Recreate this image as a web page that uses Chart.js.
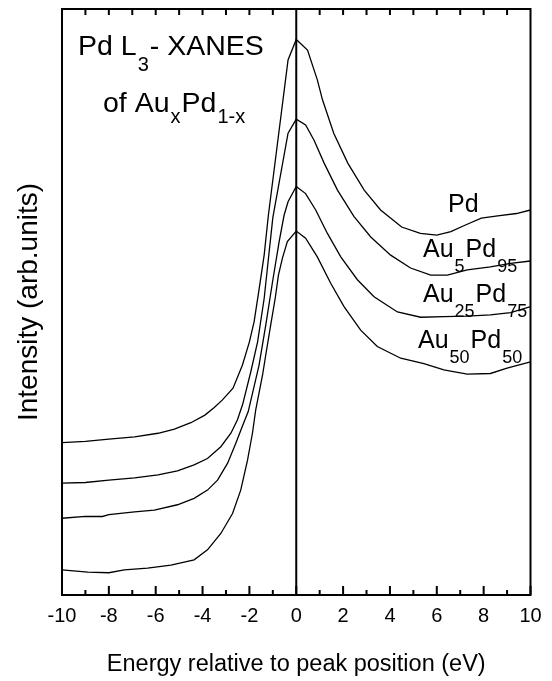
<!DOCTYPE html>
<html><head><meta charset="utf-8">
<script src="https://cdn.jsdelivr.net/npm/chart.js@4.4.0/dist/chart.umd.min.js"></script>
<style>html,body{margin:0;padding:0;background:#fff;}#wrap{width:552px;height:681px;}</style>
</head><body><div id="wrap"><canvas id="c" width="552" height="681"></canvas></div>
<script>
// ---- data (energy in eV relative to peak, intensity in arb. units) ----
const energyPd = [-10, -9, -8, -6.9, -5.9, -5.2, -4.5, -3.9, -3.5, -3.15, -2.7, -2.3, -2.0, -1.8, -1.6, -1.37, -1.19, -0.35, 0, 0.48, 0.9, 1.12, 1.6, 2.2, 2.9, 3.6, 4.5, 5.3, 6.0, 6.6, 7.2, 7.9, 8.6, 9.4, 10];
const intensityPd = [26.0, 26.2, 26.6, 27.0, 27.6, 28.3, 29.4, 30.7, 32.0, 33.3, 35.3, 39.2, 43.2, 46.6, 51.8, 58.0, 64.8, 91.3, 94.8, 93.0, 87.9, 84.5, 78.8, 73.7, 69.1, 65.7, 62.8, 61.7, 61.4, 62.0, 63.1, 64.3, 64.7, 65.1, 65.7];

const energyAu5 = [-10, -9, -8, -6.9, -5.9, -5.07, -4.36, -3.79, -3.22, -2.79, -2.51, -2.29, -1.94, -1.65, -1.37, -1.0, -0.35, 0, 0.4, 0.76, 1.19, 1.76, 2.46, 3.18, 4.03, 4.88, 5.74, 6.45, 7.3, 8.29, 9.15, 10];
const intensityAu5 = [19.1, 19.2, 19.6, 20.0, 20.5, 21.2, 22.2, 23.3, 25.3, 27.6, 29.9, 32.5, 38.1, 43.2, 50.6, 64.4, 78.8, 81.2, 80.2, 77.6, 73.7, 69.1, 64.6, 61.1, 58.0, 55.8, 54.6, 54.6, 55.5, 56.0, 56.6, 57.0];

const energyAu25 = [-10, -9, -8.27, -8.0, -6.9, -6.06, -5.07, -4.36, -3.79, -3.36, -2.93, -2.58, -2.3, -2.05, -1.59, -1.30, -1.01, -0.73, -0.52, -0.35, 0, 0.4, 0.83, 1.33, 1.9, 2.61, 3.32, 4.32, 5.31, 6.3, 7.3, 8.29, 9.15, 10];
const intensityAu25 = [13.1, 13.4, 13.4, 13.7, 14.2, 14.5, 15.4, 16.5, 17.9, 19.6, 22.5, 25.9, 28.8, 31.3, 39.2, 46.1, 53.5, 60.3, 64.8, 67.1, 69.7, 68.5, 65.7, 61.7, 57.7, 53.8, 50.9, 48.3, 47.4, 47.5, 47.6, 47.8, 48.2, 49.2];

const energyAu50 = [-10, -8.9, -8.0, -7.34, -6.35, -5.35, -4.36, -3.79, -3.22, -2.72, -2.37, -2.08, -1.87, -1.73, -1.44, -1.30, -1.09, -0.90, -0.76, -0.59, -0.38, 0, 0.4, 0.9, 1.47, 2.04, 2.75, 3.46, 4.46, 5.45, 6.3, 7.3, 8.29, 9.0, 10];
const intensityAu50 = [4.3, 3.9, 3.8, 4.3, 4.6, 5.1, 6.0, 7.7, 10.5, 13.9, 17.9, 23.0, 27.6, 31.6, 37.5, 41.0, 46.1, 50.6, 54.6, 57.5, 60.3, 62.1, 60.9, 57.7, 53.2, 49.2, 45.2, 42.4, 40.4, 39.5, 38.4, 37.7, 37.8, 38.7, 39.8];

const seriesNames = ['Pd', 'Au5Pd95', 'Au25Pd75', 'Au50Pd50'];
const xMajorTicks = [-10, -8, -6, -4, -2, 0, 2, 4, 6, 8, 10];
const xMinorTicks = [-9, -7, -5, -3, -1, 1, 3, 5, 7, 9];
const xTopTicks = [-9, -8, -7, -6, -5, -4, -3, -2, -1, 1, 2, 3, 4, 5, 6, 7, 8, 9];

const FONT = "'Liberation Sans', Arial, Helvetica, sans-serif";

function pts(xs, ys) { return xs.map((x, i) => ({x: x, y: ys[i]})); }

// text pieces: [text, isSub]
const titleLine1 = [['Pd L', false], ['3', true], ['- XANES', false]];
const titleLine2 = [['of Au', false], ['x', true], ['Pd', false], ['1-x', true]];
const curveLabels = [
  {parts: [['Pd', false]], x: 448, y: 212},
  {parts: [['Au', false], ['5', true], ['Pd', false], ['95', true]], x: 423, y: 257},
  {parts: [['Au', false], ['25', true], ['Pd', false], ['75', true]], x: 423, y: 302},
  {parts: [['Au', false], ['50', true], ['Pd', false], ['50', true]], x: 418, y: 348}
];

function drawParts(ctx, parts, x, y, size, subSize, subDrop) {
  let cx = x;
  parts.forEach(([t, sub]) => {
    ctx.font = (sub ? subSize : size) + 'px ' + FONT;
    ctx.fillText(t, cx, sub ? y + subDrop : y);
    cx += ctx.measureText(t).width + 1;
  });
}

const framePlugin = {
  id: 'frame',
  afterDraw(chart) {
    const ctx = chart.ctx;
    const a = chart.chartArea;
    const xs = chart.scales.x;
    ctx.save();
    ctx.strokeStyle = '#000';
    ctx.lineWidth = 2;
    ctx.strokeRect(a.left, a.top, a.right - a.left, a.bottom - a.top);
    const x0 = xs.getPixelForValue(0);
    ctx.beginPath(); ctx.moveTo(x0, a.top); ctx.lineTo(x0, a.bottom); ctx.stroke();
    ctx.beginPath();
    xMajorTicks.forEach(v => { const p = xs.getPixelForValue(v); ctx.moveTo(p, a.bottom); ctx.lineTo(p, a.bottom - 9); });
    xMinorTicks.forEach(v => { const p = xs.getPixelForValue(v); ctx.moveTo(p, a.bottom); ctx.lineTo(p, a.bottom - 5); });
    xTopTicks.forEach(v => { const p = xs.getPixelForValue(v); ctx.moveTo(p, a.top); ctx.lineTo(p, a.top + 6); });
    ctx.stroke();
    ctx.fillStyle = '#000';
    ctx.textBaseline = 'alphabetic';
    drawParts(ctx, titleLine1, 78, 55, 28.5, 20, 16);
    drawParts(ctx, titleLine2, 103, 112, 28.5, 20, 11);
    curveLabels.forEach(l => drawParts(ctx, l.parts, l.x, l.y, 25, 18, 15));
    ctx.restore();
  }
};

const datasets = [
  pts(energyPd, intensityPd), pts(energyAu5, intensityAu5),
  pts(energyAu25, intensityAu25), pts(energyAu50, intensityAu50)
].map((d, i) => ({
  label: seriesNames[i], data: d, borderColor: '#000', borderWidth: 1.3,
  pointRadius: 0, fill: false, tension: 0
}));

new Chart(document.getElementById('c'), {
  type: 'line',
  data: {datasets: datasets},
  options: {
    responsive: false, animation: false,
    layout: {padding: {top: 9, right: 21.5, left: 0, bottom: 0}},
    plugins: {legend: {display: false}, tooltip: {enabled: false}},
    scales: {
      x: {
        type: 'linear', min: -10, max: 10,
        grid: {display: false, drawTicks: false}, border: {display: false},
        ticks: {stepSize: 2, autoSkip: false, maxRotation: 0, color: '#000',
                font: {family: FONT, size: 20}, padding: 9, callback: v => String(v)},
        title: {display: true, text: 'Energy relative to peak position (eV)', color: '#000',
                font: {family: FONT, size: 23.5}, padding: {top: 0, bottom: 2}},
        afterFit: s => { s.height = 86; }
      },
      y: {
        min: 0, max: 100,
        grid: {display: false, drawTicks: false}, border: {display: false},
        ticks: {display: false},
        title: {display: true, text: 'Intensity (arb.units)', color: '#000',
                font: {family: FONT, size: 28}, padding: {top: 12, bottom: 0}},
        afterFit: s => { s.width = 62; }
      }
    }
  },
  plugins: [framePlugin]
});
</script></body></html>
